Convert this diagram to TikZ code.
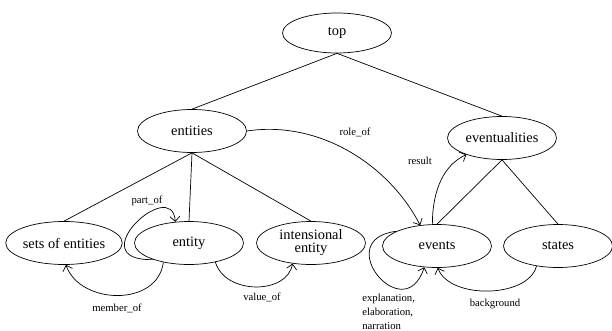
\documentclass[tikz,border=0pt]{standalone}
\usepackage{fontspec}
\setmainfont{Liberation Serif}
\usetikzlibrary{shapes.geometric,arrows.meta}
\begin{document}
\begin{tikzpicture}[x=1pt,y=-1pt,line width=0.7pt,
	concept/.style={ellipse,draw,minimum width=109pt,minimum height=43pt,inner sep=0pt,font=\fontsize{14.4}{16}\selectfont},
	rel/.style={font=\fontsize{10.7}{14}\selectfont,inner sep=0pt},
	link/.style={-{Straight Barb[length=5pt,width=10pt]}}]
	\useasboundingbox (0,0) rectangle (612,331);
	\node [concept,minimum height=40pt] (top) at (337,33) {top};
	\node [concept] (entities) at (192,131) {entities};
	\node [concept] (eventualities) at (502,138) {eventualities};
	\node [concept] (sets) at (64,243) {sets of entities};
	\node [concept] (entity) at (189,243) {entity};
	\node [concept,align=center] (intensional) at (311,243) {intensional\\[-3pt]entity};
	\node [concept] (events) at (437,246) {events};
	\node [concept] (states) at (558,246) {states};
	\draw (top.south) -- (entities.north);
	\draw (top.south) -- (eventualities.north);
	\draw (entities.south) -- (sets.north);
	\draw (entities.south) -- (entity.north);
	\draw (entities.south) -- (intensional.north);
	\draw (eventualities.south) -- (events.north);
	\draw (eventualities.south) -- (states.north);
	\draw [link] (entities.east) .. controls +(73,-11) and +(-31,-60) .. (events.129);
	\draw [link] (events.102) .. controls +(0,-35) and +(-22,10) .. (eventualities.205);
	\draw [link] (entity.205) .. controls +(-75,2) and +(-3,-47) .. (entity.123);
	\draw [link] (entity.217) .. controls +(-6,45) and +(14,40) .. (sets.275);
	\draw [link] (entity.324) .. controls +(10,33) and +(-5,31) .. (intensional.228);
	\draw [link] (events.160) .. controls +(-67,8) and +(-20,62) .. (events.239);
	\draw [link] (states.223) .. controls +(-8,32) and +(12,32) .. (events.272);
	\node [rel] (roleof) at (355,132) {role\_of};
	\node [rel] (result) at (420,161) {result};
	\node [rel] (partof) at (147,201) {part\_of};
	\node [rel] (memberof) at (117,308) {member\_of};
	\node [rel] (valueof) at (262,297) {value\_of};
	\node [rel,align=left,anchor=west] (discourse) at (362,312) {explanation,\\elaboration,\\narration};
	\node [rel] (background) at (495,304) {background};
\end{tikzpicture}
\end{document}
